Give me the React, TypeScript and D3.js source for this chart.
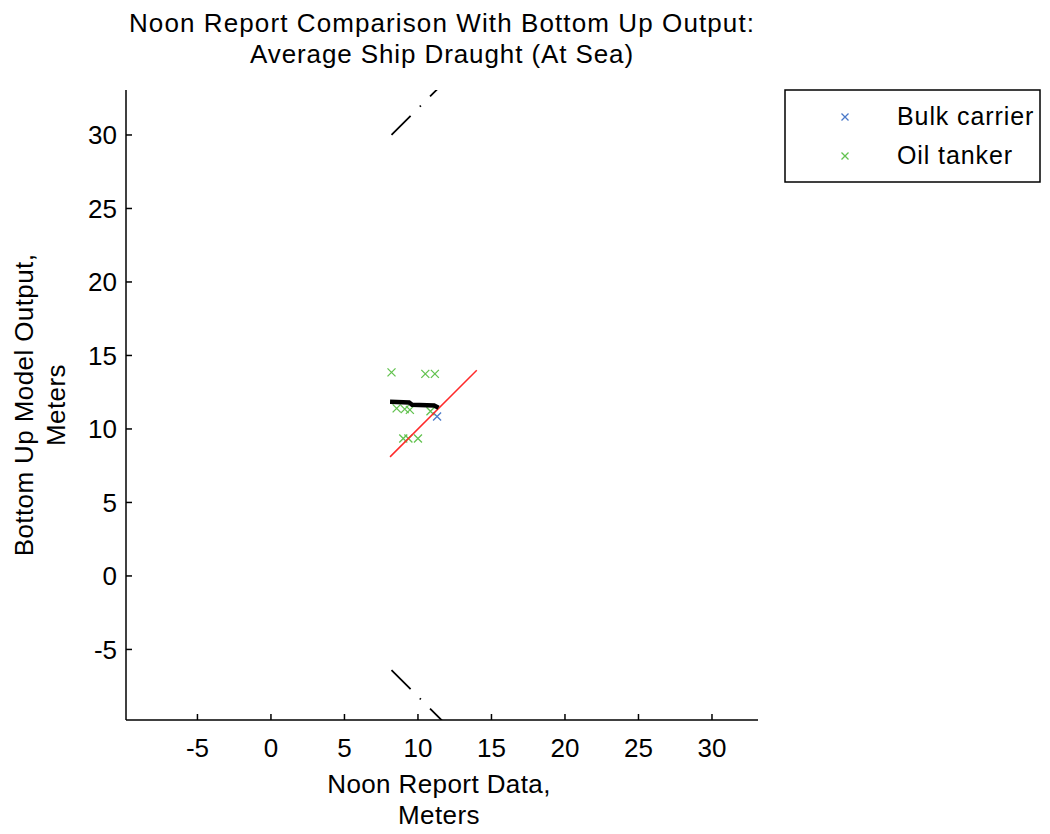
import React from "react";
import * as d3 from "d3";

const titleLines = ["Noon Report Comparison With Bottom Up Output:", "Average Ship Draught (At Sea)"];
const xLabelLines = ["Noon Report Data,", "Meters"];
const yLabelLines = ["Bottom Up Model Output,", "Meters"];
const xTicks = [-5, 0, 5, 10, 15, 20, 25, 30];
const yTicks = [-5, 0, 5, 10, 15, 20, 25, 30];
const seriesNames = ["Bulk carrier", "Oil tanker"];
const seriesColors = ["#4a78c8", "#62c24f"];

const bulkX = [11.3];
const bulkY = [10.85];
const oilX = [8.2, 10.5, 11.15, 8.55, 9.1, 9.45, 10.85, 9.0, 9.35, 10.0];
const oilY = [13.85, 13.75, 13.75, 11.4, 11.35, 11.3, 11.2, 9.35, 9.35, 9.35];

// identity reference line (red)
const refLineX = [8.1, 14.0];
const refLineY = [8.1, 14.0];
// black mean line
const meanLineX = [8.1, 9.4, 9.6, 11.1, 11.4];
const meanLineY = [11.85, 11.8, 11.65, 11.6, 11.45];
// dash-dot bound lines
const upperX = [8.2, 14.0];
const upperY = [30.0, 35.8];
const lowerX = [8.2, 14.0];
const lowerY = [-6.4, -12.2];

const FONT = "'Liberation Sans', Arial, Helvetica, sans-serif";

export default function App() {
  const left = 126, right = 758, top = 90, bottom = 720;
  const x = d3.scaleLinear().domain([-9.86, 33.13]).range([left, right]);
  const y = d3.scaleLinear().domain([-9.8, 33.06]).range([bottom, top]);
  const line = d3.line<[number, number]>().x((d) => x(d[0])).y((d) => y(d[1]));
  const zip = (a: number[], b: number[]) => a.map((v, i) => [v, b[i]] as [number, number]);

  const cross = (cx: number, cy: number, color: string, s = 4, key?: any) => (
    <path
      key={key}
      d={`M${cx - s},${cy - s}L${cx + s},${cy + s}M${cx - s},${cy + s}L${cx + s},${cy - s}`}
      stroke={color}
      strokeWidth={1.3}
      fill="none"
    />
  );

  const cx = (left + right) / 2;
  const cy = (top + bottom) / 2;

  return (
    <svg
      width={1050}
      height={834}
      style={{ position: "absolute", left: 0, top: 0, background: "#fff" }}
      fontFamily={FONT}
    >
      <defs>
        <clipPath id="plotClip">
          <rect x={left} y={top} width={right - left} height={bottom - top} />
        </clipPath>
      </defs>

      {/* title */}
      {titleLines.map((t, i) => (
        <text key={t} x={cx} y={32 + i * 31} textAnchor="middle" fontSize={26} letterSpacing={i === 0 ? 1.1 : 0.9}>
          {t}
        </text>
      ))}

      {/* markers */}
      <g clipPath="url(#plotClip)">
        {bulkX.map((v, i) => cross(x(v), y(bulkY[i]), seriesColors[0], 4, "b" + i))}
        {oilX.map((v, i) => cross(x(v), y(oilY[i]), seriesColors[1], 4, "o" + i))}
        <path d={line(zip(refLineX, refLineY)) || ""} stroke="#ff2a2a" strokeWidth={1.5} fill="none" />
        <path d={line(zip(meanLineX, meanLineY)) || ""} stroke="#000" strokeWidth={4.5} fill="none" />
        <path
          d={line(zip(upperX, upperY)) || ""}
          stroke="#000"
          strokeWidth={1.8}
          fill="none"
          strokeDasharray="27 13 1.5 13"
        />
        <path
          d={line(zip(lowerX, lowerY)) || ""}
          stroke="#000"
          strokeWidth={1.8}
          fill="none"
          strokeDasharray="27 13 1.5 13"
        />
      </g>

      {/* axes */}
      <line x1={left} y1={top} x2={left} y2={bottom} stroke="#000" strokeWidth={1.5} />
      <line x1={left} y1={bottom} x2={right} y2={bottom} stroke="#000" strokeWidth={1.5} />
      {xTicks.map((t) => (
        <g key={"xt" + t}>
          <line x1={x(t)} y1={bottom} x2={x(t)} y2={bottom - 6} stroke="#000" strokeWidth={1.5} />
          <text x={x(t)} y={757} textAnchor="middle" fontSize={26}>
            {t}
          </text>
        </g>
      ))}
      {yTicks.map((t) => (
        <g key={"yt" + t}>
          <line x1={left} y1={y(t)} x2={left + 6} y2={y(t)} stroke="#000" strokeWidth={1.5} />
          <text x={117} y={y(t) + 9.5} textAnchor="end" fontSize={26}>
            {t}
          </text>
        </g>
      ))}

      {/* x label */}
      {xLabelLines.map((t, i) => (
        <text key={"xl" + i} x={cx - 3} y={793 + i * 31} textAnchor="middle" fontSize={26} letterSpacing={0.4}>
          {t}
        </text>
      ))}

      {/* y label */}
      {yLabelLines.map((t, i) => (
        <text
          key={"yl" + i}
          transform={`translate(${33 + i * 32},${cy}) rotate(-90)`}
          textAnchor="middle"
          fontSize={26}
          letterSpacing={0.4}
        >
          {t}
        </text>
      ))}

      {/* legend */}
      <rect x={785} y={90} width={255} height={92} fill="#fff" stroke="#000" strokeWidth={1.5} />
      {seriesNames.map((n, i) => (
        <g key={n}>
          {cross(845, 117 + i * 39, seriesColors[i], 3.5)}
          <text x={897} y={125 + i * 39} fontSize={25} letterSpacing={0.9}>
            {n}
          </text>
        </g>
      ))}
    </svg>
  );
}
